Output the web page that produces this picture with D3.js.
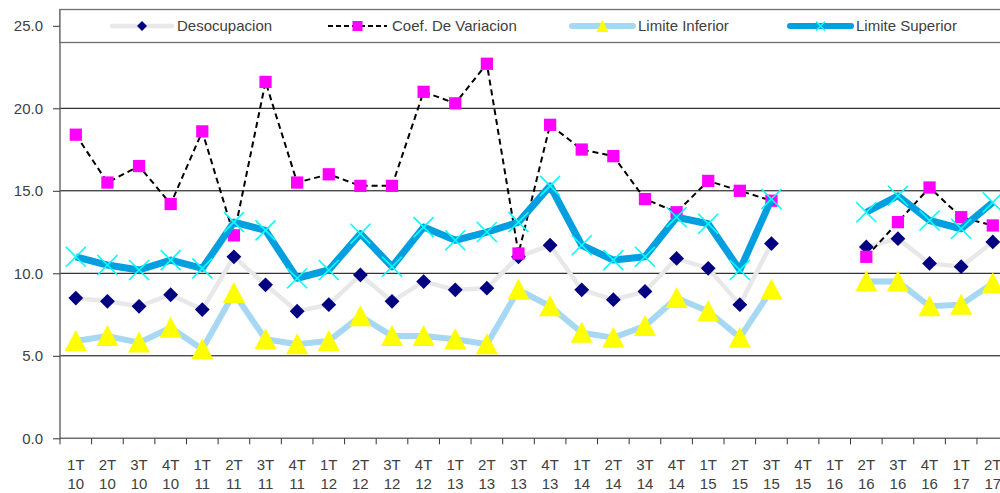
<!DOCTYPE html>
<html><head><meta charset="utf-8">
<script src="https://cdn.jsdelivr.net/npm/d3@7"></script>
<style>body{margin:0;background:#fff}svg{display:block}text{font-family:"Liberation Sans",Arial,sans-serif}</style>
</head><body>
<svg id="c" width="1000" height="493"></svg>
<script>
const quarters = ["1T","2T","3T","4T","1T","2T","3T","4T","1T","2T","3T","4T","1T","2T","3T","4T","1T","2T","3T","4T","1T","2T","3T","4T","1T","2T","3T","4T","1T","2T"];
const years    = ["10","10","10","10","11","11","11","11","12","12","12","12","13","13","13","13","14","14","14","14","15","15","15","15","16","16","16","16","17","17"];
const desocupacion = [8.5,8.3,8.0,8.7,7.8,11.0,9.3,7.7,8.1,9.9,8.3,9.5,9.0,9.1,11.0,11.7,9.0,8.4,8.9,10.9,10.3,8.1,11.8,null,null,11.6,12.1,10.6,10.4,11.9];
const coefVariacion = [18.4,15.5,16.5,14.2,18.6,12.3,21.6,15.5,16.0,15.3,15.3,21.0,20.3,22.7,11.2,19.0,17.5,17.1,14.5,13.7,15.6,15.0,14.4,null,null,11.0,13.1,15.2,13.4,12.9];
const limiteInferior = [5.9,6.2,5.8,6.7,5.4,8.8,6.0,5.7,5.9,7.4,6.2,6.2,6.0,5.7,9.0,8.0,6.4,6.1,6.8,8.5,7.7,6.1,9.0,null,null,9.5,9.5,8.0,8.1,9.4];
const limiteSuperior = [11.0,10.5,10.2,10.8,10.3,13.1,12.6,9.7,10.2,12.4,10.4,12.8,12.0,12.5,13.1,15.3,11.7,10.8,11.0,13.4,13.0,10.2,14.5,null,null,13.7,14.7,13.2,12.7,14.3];
const yTicks = [0,5,10,15,20,25];
const seriesNames = ["Desocupacion","Coef. De Variacion","Limite Inferior","Limite Superior"];

const svg = d3.select("#c");
const leftX = 60, stepX = 31.62, topY = 25.8, bottomY = 438.3;
const idx = d3.range(quarters.length);
const x = d3.scaleBand().domain(idx).range([leftX, leftX + stepX*idx.length]);
const y = d3.scaleLinear().domain([0,25]).range([bottomY, topY]);
const cx = i => x(i) + x.bandwidth()/2;

// gridlines
svg.append("g").selectAll("line").data(yTicks.filter(t=>t>0)).join("line")
  .attr("x1", leftX).attr("x2", 1000).attr("y1", d=>y(d)).attr("y2", d=>y(d))
  .attr("stroke","#000").attr("stroke-width",1);

// y axis
const yAxis = svg.append("g").attr("transform",`translate(${leftX},0)`)
  .call(d3.axisLeft(y).tickValues(yTicks).tickFormat(d3.format(".1f")).tickSize(7).tickPadding(10));
yAxis.select(".domain").attr("stroke","#6e6e6e").attr("stroke-width",1.5).attr("d",`M0,${bottomY}V9`);
yAxis.selectAll(".tick line").attr("stroke","#333");
yAxis.selectAll("text").attr("font-size",15).attr("fill","#404040").attr("font-family","Liberation Sans, Arial, sans-serif");

// x axis
const xAxis = svg.append("g").attr("transform",`translate(0,${bottomY})`)
  .call(d3.axisBottom(x).tickSize(0).tickFormat(""));
xAxis.select(".domain").attr("stroke","#6e6e6e").attr("stroke-width",1.5).attr("d",`M${leftX},0H1000`);
xAxis.selectAll(".tick").remove();
svg.append("g").selectAll("line").data(d3.range(idx.length+1)).join("line")
  .attr("x1", d=>leftX+d*x.step()).attr("x2", d=>leftX+d*x.step())
  .attr("y1", bottomY).attr("y2", bottomY+6).attr("stroke","#333");
const lbl = svg.append("g").selectAll("text").data(idx).join("text")
  .attr("text-anchor","middle").attr("font-size",15).attr("fill","#404040");
lbl.append("tspan").attr("x", cx).attr("y", 470).text(i=>quarters[i]);
lbl.append("tspan").attr("x", cx).attr("y", 489).text(i=>years[i]);

function lineOf(arr){
  return d3.line().defined(i=>arr[i]!=null).x(cx).y(i=>y(arr[i]))(idx);
}
const sym = (type,size)=>d3.symbol().type(type).size(size)();
const xPath = r => `M${-r},${-r}L${r},${r}M${-r},${r}L${r},${-r}`;

// Desocupacion
svg.append("path").attr("d",lineOf(desocupacion)).attr("fill","none").attr("stroke","#e8e8e8").attr("stroke-width",4.5);
svg.append("g").selectAll("path").data(idx.filter(i=>desocupacion[i]!=null)).join("path")
  .attr("transform",i=>`translate(${cx(i)},${y(desocupacion[i])}) rotate(45)`)
  .attr("d", sym(d3.symbolSquare,110)).attr("fill","#000080");

// Coef
svg.append("path").attr("d",lineOf(coefVariacion)).attr("fill","none").attr("stroke","#000").attr("stroke-width",2).attr("stroke-dasharray","6,4");
svg.append("g").selectAll("path").data(idx.filter(i=>coefVariacion[i]!=null)).join("path")
  .attr("transform",i=>`translate(${cx(i)},${y(coefVariacion[i])})`)
  .attr("d", sym(d3.symbolSquare,150)).attr("fill","#ff00ff");

// Limite Inferior
svg.append("path").attr("d",lineOf(limiteInferior)).attr("fill","none").attr("stroke","#a6d8f4").attr("stroke-width",6);
svg.append("g").selectAll("path").data(idx.filter(i=>limiteInferior[i]!=null)).join("path")
  .attr("transform",i=>`translate(${cx(i)},${y(limiteInferior[i])})`)
  .attr("d", "M0,-11L11,10L-11,10Z").attr("fill","#ffff00");

// Limite Superior
svg.append("path").attr("d",lineOf(limiteSuperior)).attr("fill","none").attr("stroke","#009fdf").attr("stroke-width",7).attr("stroke-linejoin","round");
svg.append("g").selectAll("path").data(idx.filter(i=>limiteSuperior[i]!=null)).join("path")
  .attr("transform",i=>`translate(${cx(i)},${y(limiteSuperior[i])})`)
  .attr("d", xPath(10)).attr("stroke","#00ffff").attr("stroke-width",1.6).attr("fill","none");

// legend
const lg = svg.append("g");
lg.append("rect").attr("x",leftX).attr("y",9.5).attr("width",960).attr("height",33)
  .attr("fill","#fff").attr("stroke","#6e6e6e").attr("stroke-width",1.3);
const items = [
  {x0:112,x1:172,tx:177},
  {x0:328,x1:387,tx:392},
  {x0:572,x1:633,tx:638},
  {x0:790,x1:851,tx:856}
];
const ly = 26;
lg.append("line").attr("x1",items[0].x0).attr("x2",items[0].x1).attr("y1",ly).attr("y2",ly).attr("stroke","#e8e8e8").attr("stroke-width",4.5).attr("stroke-linecap","round");
lg.append("path").attr("transform",`translate(${(items[0].x0+items[0].x1)/2},${ly}) rotate(45)`).attr("d",sym(d3.symbolSquare,50)).attr("fill","#000080");
lg.append("line").attr("x1",items[1].x0).attr("x2",items[1].x1).attr("y1",ly).attr("y2",ly).attr("stroke","#000").attr("stroke-width",2).attr("stroke-dasharray","5,3");
lg.append("path").attr("transform",`translate(${(items[1].x0+items[1].x1)/2},${ly})`).attr("d",sym(d3.symbolSquare,100)).attr("fill","#ff00ff");
lg.append("line").attr("x1",items[2].x0).attr("x2",items[2].x1).attr("y1",ly).attr("y2",ly).attr("stroke","#a6d8f4").attr("stroke-width",6).attr("stroke-linecap","round");
lg.append("path").attr("transform",`translate(${(items[2].x0+items[2].x1)/2},${ly})`).attr("d","M0,-6L6,6L-6,6Z").attr("fill","#ffff00");
lg.append("line").attr("x1",items[3].x0).attr("x2",items[3].x1).attr("y1",ly).attr("y2",ly).attr("stroke","#009fdf").attr("stroke-width",6).attr("stroke-linecap","round");
lg.append("path").attr("transform",`translate(${(items[3].x0+items[3].x1)/2},${ly})`).attr("d",xPath(4.5)).attr("stroke","#00ffff").attr("stroke-width",1.5);
lg.selectAll("text.l").data(items).join("text").attr("class","l")
  .attr("x",d=>d.tx).attr("y",ly).attr("dy","0.35em").attr("font-size",15).attr("fill","#404040")
  .text((d,i)=>seriesNames[i]);
</script>
</body></html>
